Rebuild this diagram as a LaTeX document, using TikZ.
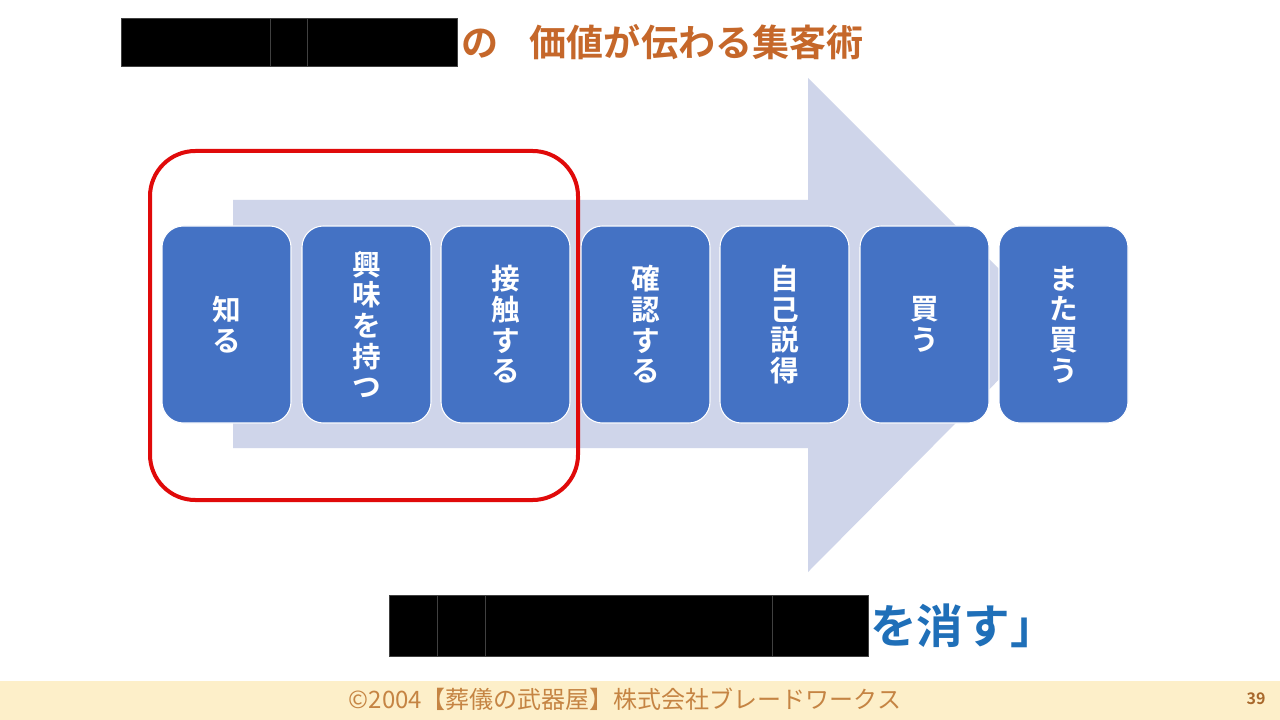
\documentclass[tikz,border=0pt]{standalone}
\usepackage{fontspec}
\setmainfont{Noto Sans CJK JP}[BoldFont={Noto Sans CJK JP Bold}]
\definecolor{titleorange}{HTML}{C5672A}
\definecolor{boxblue}{HTML}{4472C4}
\definecolor{arrowlav}{HTML}{CFD5EA}
\definecolor{redline}{HTML}{E00A0A}
\definecolor{msgblue}{HTML}{1F6FB8}
\definecolor{footbg}{HTML}{FDEFC9}
\definecolor{foottext}{HTML}{C58443}
\definecolor{pagenum}{HTML}{A8682C}
\tikzset{
  stage/.style={draw=white, line width=0.8pt, fill=boxblue, rounded corners=16pt,
    minimum width=96.75pt, minimum height=147.75pt, inner sep=0pt,
    text=white, font=\fontsize{21.5}{23}\selectfont\bfseries, align=center},
  redact/.style={fill=black, draw=black!75, line width=0.4pt},
}
\begin{document}
\begin{tikzpicture}[x=0.75pt, y=-0.75pt]
\useasboundingbox (0,0) rectangle (1280,720);
\fill[white] (0,0) rectangle (1280,720);
% title
\draw[redact] (121,18) rectangle (270,66);
\draw[redact] (270,18) rectangle (307,66);
\draw[redact] (307,18) rectangle (457,66);
\node[anchor=base west, inner sep=0pt, text=titleorange, font=\fontsize{27.8}{30}\selectfont\bfseries] (title) at (461,57) {の\hspace{0.85em}価値が伝わる集客術};
% big arrow
\fill[arrowlav] (233,200) -- (808,200) -- (808,78) -- (1054,324) -- (808,572) -- (808,448) -- (233,448) -- cycle;
% stages
\node[stage] (s1) at (226.5,324.5) {知\\る};
\node[stage] (s2) at (366.5,324.5) {興\\味\\を\\持\\つ};
\node[stage] (s3) at (505.5,324.5) {接\\触\\す\\る};
\node[stage] (s4) at (645.5,324.5) {確\\認\\す\\る};
\node[stage] (s5) at (784.5,324.5) {自\\己\\説\\得};
\node[stage] (s6) at (924.5,324.5) {買\\う};
\node[stage] (s7) at (1063.5,324.5) {ま\\た\\買\\う};
% red frame
\draw[redline, line width=3pt, rounded corners=34pt] (150,151) rectangle (578,500);
% bottom message
\draw[redact] (389,595) rectangle (437,656);
\draw[redact] (437,595) rectangle (485,656);
\draw[redact] (485,595) rectangle (772,656);
\draw[redact] (772,595) rectangle (868,656);
\node[anchor=base west, inner sep=0pt, text=msgblue, font=\fontsize{35}{37}\selectfont\bfseries] (msg) at (870,643) {を消す」};
% footer
\fill[footbg] (0,681) rectangle (1280,720);
\node[inner sep=0pt, text=foottext, font=\fontsize{18}{19}\selectfont] (foot) at (625,699) {©2004【葬儀の武器屋】株式会社ブレードワークス};
\node[inner sep=0pt, text=pagenum, font=\fontsize{12}{13}\selectfont\bfseries] (page) at (1256,699) {39};
\end{tikzpicture}
\end{document}
